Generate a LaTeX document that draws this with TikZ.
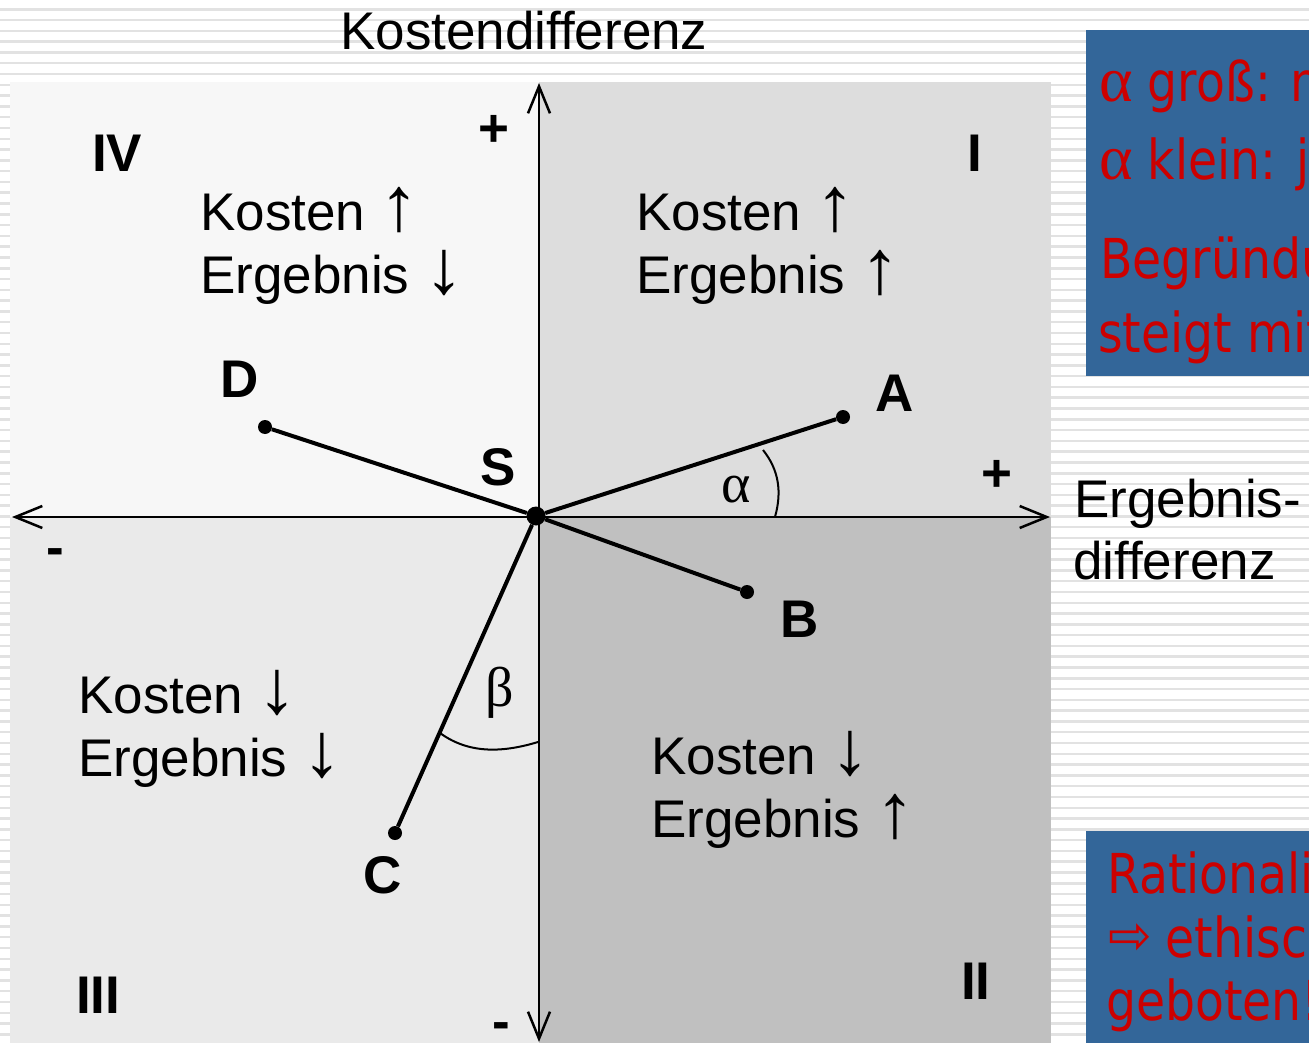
\documentclass[tikz,border=0pt]{standalone}
\usepackage{fontspec}
\setmainfont{Liberation Sans}
\newfontfamily\greekserif{Liberation Serif}
\newfontfamily\boxfont[FakeStretch=0.86]{DejaVu Sans}
\usetikzlibrary{arrows.meta}
\definecolor{stripe}{HTML}{E2E2E2}
\definecolor{qIV}{HTML}{F7F7F7}
\definecolor{qI}{HTML}{DDDDDD}
\definecolor{qIII}{HTML}{EAEAEA}
\definecolor{qII}{HTML}{C0C0C0}
\definecolor{boxblue}{HTML}{336699}
\definecolor{boxred}{HTML}{CC0000}
\newcommand{\upar}{\scalebox{1.5}[1.45]{↑}}
\newcommand{\dnar}{\scalebox{1.5}[1.45]{↓}}
\begin{document}
\begin{tikzpicture}[x=1pt,y=-1pt,
  lbl/.style={inner sep=0pt, anchor=base west, font={\fontsize{53}{62}\selectfont}},
  boldlbl/.style={inner sep=0pt, font={\fontsize{53}{62}\selectfont\bfseries}},
  greek/.style={inner sep=0pt, font={\fontsize{56}{62}\selectfont\greekserif}},
  redtxt/.style={inner sep=0pt, anchor=base west, text=boxred, font={\fontsize{55}{66}\selectfont\boxfont}},
  tip/.tip={Straight Barb[length=27pt,width=22pt,line width=2.5pt]},
  axisline/.style={line width=2.5pt, tip-tip},
  ray/.style={line width=4pt},
  dot/.style={circle, fill=black, inner sep=0pt, minimum size=14pt},
  anglearc/.style={line width=2pt},
  ]
\useasboundingbox (0,0) rectangle (1309,1043);
\begin{scope}
\clip (0,0) rectangle (1309,1043);
% striped background
\fill[white] (0,0) rectangle (1309,1043);
\foreach \i in {0,...,96}
  \draw[stripe, line width=2.5pt] (0,{9.3+10.79*\i}) -- (1309,{9.3+10.79*\i});
% quadrants
\fill[qIV]  (10,82)   rectangle (539,517);
\fill[qI]   (539,82)  rectangle (1051,517);
\fill[qIII] (10,517)  rectangle (539,1043);
\fill[qII]  (539,517) rectangle (1051,1043);
% blue boxes
\fill[boxblue] (1086,30) rectangle (1320,376);
\fill[boxblue] (1086,831) rectangle (1320,1050);
\node[redtxt] (t1) at (1099,102) {{\fontsize{64}{66}\selectfont\greekserif α} groß: n};
\node[redtxt] (t2) at (1099,180) {{\fontsize{64}{66}\selectfont\greekserif α} klein: j};
\node[redtxt] (t3) at (1100,278) {Begründu};
\node[redtxt] (t4) at (1098,352) {steigt mit};
\node[redtxt] (t5) at (1107,893) {Rationali};
\node[redtxt] (t6) at (1108,957) {\raisebox{3pt}{\scalebox{1.1}[1.0]{⇨}}\hspace{14pt}ethisc};
\node[redtxt] (t7) at (1106,1020) {geboten!};
\end{scope}
% axes
\coordinate (xl) at (12,517);
\coordinate (xr) at (1050,517);
\coordinate (yt) at (539,83);
\coordinate (yb) at (539,1042);
\draw[axisline] (xl) -- (xr);
\draw[axisline] (yb) -- (yt);
% axis labels
\node[lbl] (ky) at (340,50) {Kostendifferenz};
\node[lbl] (ex1) at (1074,517) {Ergebnis-};
\node[lbl] (ex2) at (1073,579) {differenz};
\node[boldlbl] (pt) at (494,131) {+};
\node[boldlbl] (pr) at (997,476) {+};
\node[boldlbl] (ml) at (55,557) {-};
\node[boldlbl] (mb) at (501,1031) {-};
% quadrant numerals
\node[boldlbl, anchor=base west] (qn4) at (92,172) {IV};
\node[boldlbl, anchor=base] (qn1) at (975,172) {I};
\node[boldlbl, anchor=base west] (qn3) at (76,1013) {III};
\node[boldlbl, anchor=base west] (qn2) at (961,999) {II};
% quadrant texts
\node[lbl] (k4) at (200,231) {Kosten \upar};
\node[lbl] (e4) at (200,293) {Ergebnis \dnar};
\node[lbl] (k1) at (636,231) {Kosten \upar};
\node[lbl] (e1) at (636,293) {Ergebnis \upar};
\node[lbl] (k3) at (78,713) {Kosten \dnar};
\node[lbl] (e3) at (78,776) {Ergebnis \dnar};
\node[lbl] (k2) at (651,774) {Kosten \dnar};
\node[lbl] (e2) at (651,837) {Ergebnis \upar};
% points
\node[dot, minimum size=19pt] (S) at (536,516) {};
\node[dot] (A) at (843,417) {};
\node[dot] (B) at (747,592) {};
\node[dot] (C) at (395,833) {};
\node[dot] (D) at (265,427) {};
\draw[ray] (S) -- (A);
\draw[ray] (S) -- (B);
\draw[ray] (S) -- (C);
\draw[ray] (S) -- (D);
\node[boldlbl] (lA) at (895,393) {A};
\node[boldlbl] (lB) at (800,619) {B};
\node[boldlbl] (lC) at (383,875) {C};
\node[boldlbl] (lD) at (240,379) {D};
\node[boldlbl] (lS) at (498,467) {S};
% angles
\draw[anglearc] (763,450) .. controls (779,470) and (782,492) .. (775,517);
\draw[anglearc] (440,733) .. controls (470,755) and (505,752) .. (538,742);
\node[greek] (al) at (736,490) {α};
\node[greek] (be) at (500,693) {β};
\end{tikzpicture}
\end{document}
